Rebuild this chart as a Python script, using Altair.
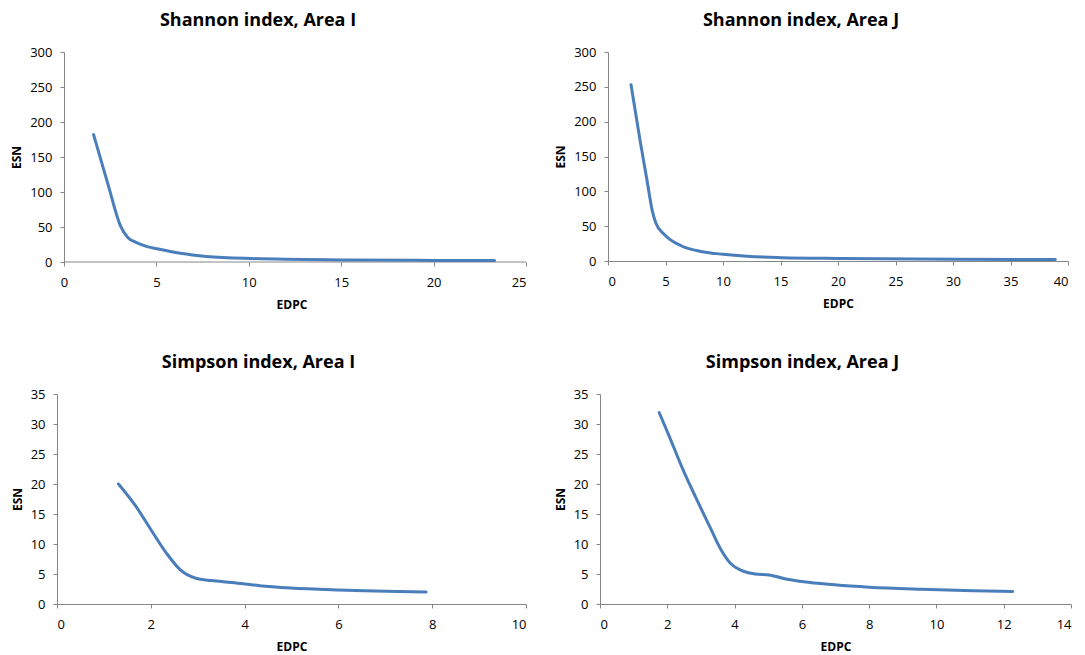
import altair as alt
import pandas as pd

# ---- data ----
shannon_i_edpc = [1.6, 2.4, 3.05, 3.45, 3.9, 4.5, 5.1, 6.3, 7.7, 10.1, 15.2, 20.0, 23.3]
shannon_i_esn = [182, 109, 52, 35, 28, 22, 18.5, 12.5, 8, 5, 3, 2.3, 2]

shannon_j_edpc = [2.0, 2.8, 3.4, 3.85, 4.15, 4.9, 6.4, 8.2, 10.0, 12.1, 15.1, 20.3, 30.2, 38.9]
shannon_j_esn = [253, 172, 115, 72, 55, 38, 21.5, 13.4, 9.6, 6.7, 4.8, 3.6, 2.4, 2]

simpson_i_edpc = [1.31, 1.68, 2.01, 2.34, 2.63, 2.96, 3.29, 3.73, 4.32, 4.98, 6.01, 7.87]
simpson_i_esn = [20.0, 16.3, 12.3, 8.4, 5.7, 4.3, 3.9, 3.6, 3.05, 2.67, 2.33, 2.0]

simpson_j_edpc = [1.76, 2.04, 2.45, 2.86, 3.27, 3.58, 3.89, 4.2, 4.61, 5.03, 5.43, 6.05, 6.97, 8.0, 9.55, 11.1, 12.27]
simpson_j_esn = [31.9, 28.2, 22.6, 17.6, 12.8, 9.2, 6.7, 5.6, 5.0, 4.85, 4.3, 3.7, 3.2, 2.8, 2.45, 2.2, 2.1]

titles = ["Shannon index, Area I", "Shannon index, Area J", "Simpson index, Area I", "Simpson index, Area J"]
x_ticks = [list(range(0, 26, 5)), list(range(0, 41, 5)), list(range(0, 11, 2)), list(range(0, 15, 2))]
y_ticks = [list(range(0, 301, 50)), list(range(0, 301, 50)), list(range(0, 36, 5)), list(range(0, 36, 5))]

FONT = "Open Sans"
AXIS_GRAY = "#868686"


def panel(title, xs, ys, xt, yt, w, h, dx, shift=0):
    """shift: extra pixels added on the left of the plot, with the y axis
    moved inward so that x = 0 still sits on the y axis."""
    df = pd.DataFrame({"EDPC": xs, "ESN": ys})
    xmin = -shift * (xt[-1] - xt[0]) / w if shift else xt[0]
    x_enc = alt.X(
        "EDPC:Q",
        scale=alt.Scale(domain=[xmin, xt[-1]], nice=False, zero=False),
        axis=alt.Axis(values=xt, title="EDPC", domain=(shift == 0)),
    )
    y_enc = alt.Y(
        "ESN:Q",
        scale=alt.Scale(domain=[yt[0], yt[-1]], nice=False),
        axis=alt.Axis(values=yt, title="ESN", offset=-shift) if shift else alt.Axis(values=yt, title="ESN"),
    )
    line = alt.Chart(df).mark_line(
        color="#4A7EBB", strokeWidth=3, interpolate="monotone", strokeCap="round"
    ).encode(x=x_enc, y=y_enc)
    layers = [line]
    if shift:
        axis_df = pd.DataFrame({"EDPC": [xt[0]], "EDPC2": [xt[-1]], "ESN": [yt[0]]})
        base_line = alt.Chart(axis_df).mark_rule(color=AXIS_GRAY, strokeWidth=1).encode(
            x=x_enc, x2=alt.X2("EDPC2"), y=y_enc
        )
        layers = [base_line, line]
    return alt.layer(
        *layers,
        title=alt.TitleParams(
            title, anchor="middle", dx=dx, fontSize=18, font=FONT,
            fontWeight="bold", color="#000000", baseline="alphabetic", offset=2,
        ),
    ).properties(width=w + shift, height=h)


a = panel(titles[0], shannon_i_edpc, shannon_i_esn, x_ticks[0], y_ticks[0], 462, 210, -33.5, shift=7)
b = panel(titles[1], shannon_j_edpc, shannon_j_esn, x_ticks[1], y_ticks[1], 460, 209, -37)
c = panel(titles[2], simpson_i_edpc, simpson_i_esn, x_ticks[2], y_ticks[2], 469, 210, -33)
d = panel(titles[3], simpson_j_edpc, simpson_j_esn, x_ticks[3], y_ticks[3], 471, 210, -33)

chart = (
    alt.concat(a, b, c, d, columns=2)
    .properties(
        align="none",
        spacing={"row": 44, "column": 27},
        padding={"left": 2, "top": 4, "right": 0, "bottom": 2},
    )
    .configure_view(stroke=None)
    .configure_axis(
        grid=False,
        domainColor=AXIS_GRAY,
        tickColor=AXIS_GRAY,
        tickSize=4,
        labelFont=FONT,
        labelFontSize=13,
        labelColor="#000000",
        titleFont=FONT,
        titleFontSize=12,
        titleFontWeight="bold",
        titleColor="#000000",
    )
    .configure_axisX(labelPadding=10, titlePadding=10)
    .configure_axisY(labelPadding=8, titlePadding=6)
)

chart.save("out.html", embed_options={"renderer": "svg", "actions": False})
